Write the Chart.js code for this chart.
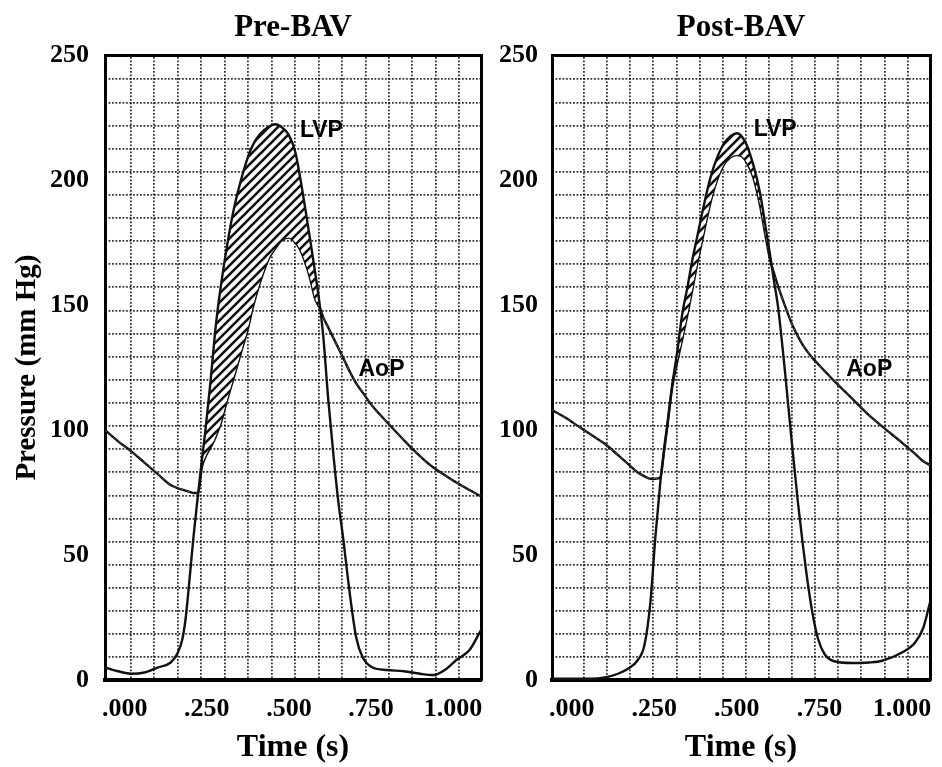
<!DOCTYPE html>
<html lang="en">
<head>
<meta charset="UTF-8" />
<title>Pre-BAV / Post-BAV</title>
<style>
  html, body { margin: 0; padding: 0; background: #fff; }
  #wrap { position: relative; width: 942px; height: 767px; }
  #preChart { position: absolute; left: 0; top: 0; }
  #postChart { position: absolute; left: 490px; top: 0; }
</style>
</head>
<body>
<div id="wrap">
  <canvas id="preChart" width="490" height="767"></canvas>
  <canvas id="postChart" width="452" height="767"></canvas>
</div>
<script src="https://cdn.jsdelivr.net/npm/chart.js@4.4.1/dist/chart.umd.min.js"></script>
<script>
const preTime = [-0.06, -0.02, 0.02, 0.06, 0.10, 0.14, 0.16, 0.175, 0.185, 0.20, 0.21, 0.224, 0.235, 0.245, 0.261, 0.273, 0.282, 0.291, 0.312, 0.33, 0.352, 0.376, 0.39, 0.412, 0.44, 0.458, 0.475, 0.50, 0.52, 0.535, 0.55, 0.565, 0.58, 0.595, 0.605, 0.62, 0.635, 0.65, 0.665, 0.685, 0.705, 0.725, 0.755, 0.80, 0.85, 0.90, 0.94, 0.98, 1.01, 1.05, 1.085];
const preLVP = [5, 3.5, 2.5, 3, 5, 7, 10.5, 16, 24, 44, 58, 75, 88, 99, 119, 136, 147, 156, 174, 187, 199, 209.5, 214, 218.5, 221.5, 222.4, 221.5, 218, 211, 200.5, 188.5, 176, 163, 149, 137, 112, 91, 72, 57, 35, 17, 9, 5, 4, 3.5, 2.5, 2, 4.5, 8, 12, 20];
const preAoP = [100, 95.5, 91.5, 87, 82.5, 78, 76.8, 76.2, 75.8, 75.2, 74.8, 75, 85, 89, 93, 96, 99, 102, 112, 120, 130, 141, 149, 159, 169, 172.5, 175.5, 177, 175, 172, 167, 160.5, 152.5, 148.5, 145, 141, 137, 133, 129, 123.5, 118.7, 115, 109.5, 103, 96, 89.5, 85, 81.5, 79, 76, 73.5];

const postTime = [-0.06, -0.02, 0.02, 0.06, 0.10, 0.14, 0.17, 0.20, 0.22, 0.238, 0.253, 0.268, 0.28, 0.289, 0.304, 0.319, 0.334, 0.35, 0.365, 0.38, 0.40, 0.42, 0.44, 0.46, 0.48, 0.50, 0.515, 0.53, 0.55, 0.57, 0.585, 0.60, 0.612, 0.625, 0.645, 0.665, 0.685, 0.70, 0.716, 0.73, 0.746, 0.765, 0.79, 0.85, 0.90, 0.94, 1.0, 1.04, 1.065, 1.085];
const postLVP = [0.5, 0.5, 0.5, 0.5, 1, 2.5, 4.5, 8, 14, 31, 57, 79, 93, 102, 118, 131, 146, 157, 168, 177.5, 190, 201, 209, 214.5, 217.5, 218.8, 217.5, 214, 206, 195, 183, 170.5, 160, 149, 124.4, 97, 71, 54, 37.7, 26, 16.4, 10.5, 7.7, 6.8, 7, 7.7, 11, 15, 21, 31];
const postAoP = [108, 105, 101.5, 98, 94.5, 90, 86.5, 83, 81.5, 80.5, 80.5, 81, 92, 101, 117, 127, 136, 146, 156, 166.5, 179, 191, 200, 206, 209, 210, 209.5, 207, 201, 190, 179, 168.5, 163, 157.5, 150, 143, 137.5, 134, 131, 128.7, 126.4, 123.8, 120.3, 112.5, 106, 101.5, 95, 90.5, 87.5, 86];

const timeTicks = [0, 0.25, 0.5, 0.75, 1.0];
const pressureTicks = [0, 50, 100, 150, 200, 250];

// chart paper grid (does not line up with the ticks)
const gridY = Array.from({ length: 26 }, (_, i) => 9.1 + i * 9.25);
const preGridX = Array.from({ length: 15 }, (_, i) => 0.019 + i * 0.0714);
const postGridX = Array.from({ length: 15 }, (_, i) => 0.037 + i * 0.07);

const serif = '"Liberation Serif", "Times New Roman", serif';

function hatch() {
  const c = document.createElement('canvas');
  c.width = c.height = 9;
  const g = c.getContext('2d');
  g.fillStyle = '#fff';
  g.fillRect(0, 0, 9, 9);
  g.strokeStyle = '#111';
  g.lineWidth = 2.6;
  g.beginPath();
  g.moveTo(0, 9); g.lineTo(9, 0);
  g.moveTo(-1, 1); g.lineTo(1, -1);
  g.moveTo(8, 10); g.lineTo(10, 8);
  g.stroke();
  return g.createPattern(c, 'repeat');
}

const curveLabels = {
  id: 'curveLabels',
  afterDatasetsDraw(chart, args, opts) {
    const { ctx, scales: { x, y } } = chart;
    ctx.save();
    ctx.font = 'bold 23px "Liberation Sans", Arial, sans-serif';
    ctx.fillStyle = '#000';
    ctx.textAlign = 'center';
    ctx.textBaseline = 'middle';
    opts.items.forEach(it => {
      ctx.fillText(it.text, x.getPixelForValue(it.t), y.getPixelForValue(it.p));
    });
    ctx.restore();
  }
};

function points(time, vals) {
  return time.map((t, i) => ({ x: t, y: vals[i] }));
}

function makeChart(id, cfg) {
  return new Chart(document.getElementById(id), {
    type: 'line',
    data: {
      datasets: [
        {
          label: 'LVP',
          data: points(cfg.time, cfg.lvp),
          borderColor: '#111',
          borderWidth: 2.4,
          pointRadius: 0,
          cubicInterpolationMode: 'monotone',
          fill: { target: 1, above: hatch(), below: 'rgba(0,0,0,0)' }
        },
        {
          label: 'AoP',
          data: points(cfg.time, cfg.aop),
          borderColor: '#111',
          borderWidth: 2.4,
          pointRadius: 0,
          cubicInterpolationMode: 'monotone',
          fill: false
        }
      ]
    },
    options: {
      responsive: false,
      animation: false,
      layout: { padding: { left: 0, right: cfg.padRight, top: 0, bottom: 0 } },
      plugins: {
        legend: { display: false },
        tooltip: { enabled: false },
        title: {
          display: true,
          text: cfg.title,
          fullSize: false,
          color: '#000',
          font: { family: serif, size: 31, weight: 'bold' },
          padding: { top: 9, bottom: 9 }
        },
        curveLabels: { items: cfg.labels }
      },
      scales: {
        x: {
          type: 'linear',
          position: 'bottom',
          min: -0.06,
          max: 1.085,
          afterBuildTicks: s => { s.ticks = timeTicks.map(v => ({ value: v })); },
          afterFit: s => { s.height = 87; },
          grid: { display: false },
          border: { display: true, color: '#000', width: 4 },
          ticks: {
            color: '#000',
            padding: 6,
            autoSkip: false,
            maxRotation: 0,
            font: { family: serif, size: 26, weight: 'bold' },
            callback: v => v >= 1 ? '1.000' : '.' + String(Math.round(v * 1000)).padStart(3, '0')
          },
          title: {
            display: true,
            text: 'Time (s)',
            color: '#000',
            font: { family: serif, size: 32, weight: 'bold' },
            padding: { top: 0, bottom: 0 }
          }
        },
        y: {
          type: 'linear',
          position: 'left',
          min: 0,
          max: 250,
          afterBuildTicks: s => { s.ticks = pressureTicks.map(v => ({ value: v })); },
          afterFit: s => { s.width = cfg.yWidth; },
          grid: { display: false },
          border: { display: true, color: '#000', width: 3 },
          ticks: {
            color: '#000',
            padding: cfg.yPad,
            font: { family: serif, size: 26, weight: 'bold' }
          },
          title: {
            display: cfg.yTitle,
            text: 'Pressure (mm Hg)',
            color: '#000',
            font: { family: serif, size: 29, weight: 'bold' },
            padding: { top: 10, bottom: 0 }
          }
        },
        xGrid: {
          type: 'linear',
          position: 'top',
          min: -0.06,
          max: 1.085,
          afterBuildTicks: s => { s.ticks = cfg.gridX.map(v => ({ value: v })); },
          grid: { color: 'rgba(0,0,0,0.8)', lineWidth: 1.8, drawTicks: false },
          border: { display: true, color: '#000', width: 3, dash: [1.8, 1.7] },
          ticks: { display: false }
        },
        yGrid: {
          type: 'linear',
          position: 'right',
          min: 0,
          max: 250,
          afterBuildTicks: s => { s.ticks = gridY.map(v => ({ value: v })); },
          grid: { color: 'rgba(0,0,0,0.8)', lineWidth: 1.8, drawTicks: false },
          border: { display: true, color: '#000', width: 3, dash: [1.8, 1.7] },
          ticks: { display: false }
        }
      }
    },
    plugins: [curveLabels]
  });
}

makeChart('preChart', {
  title: 'Pre-BAV',
  time: preTime, lvp: preLVP, aop: preAoP,
  gridX: preGridX,
  yTitle: true, yWidth: 105, yPad: 8, padRight: 9,
  labels: [{ text: 'LVP', t: 0.599, p: 219.7 }, { text: 'AoP', t: 0.782, p: 124 }]
});

makeChart('postChart', {
  title: 'Post-BAV',
  time: postTime, lvp: postLVP, aop: postAoP,
  gridX: postGridX,
  yTitle: false, yWidth: 62, yPad: 6, padRight: 12,
  labels: [{ text: 'LVP', t: 0.616, p: 220.4 }, { text: 'AoP', t: 0.901, p: 124 }]
});
</script>
</body>
</html>
